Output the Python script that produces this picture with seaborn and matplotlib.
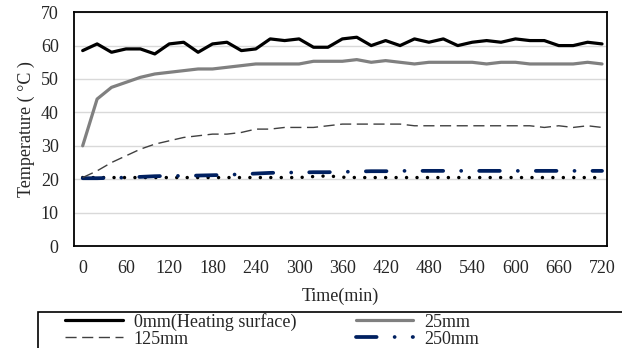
import numpy as np
import pandas as pd
import matplotlib
matplotlib.use("Agg")
import matplotlib.pyplot as plt
import seaborn as sns
from matplotlib.patches import Rectangle

# time axis (min), one reading every 20 minutes
time_min = list(range(0, 721, 20))

temp_0mm = [58.5, 60.5, 58, 59, 59, 57.5, 60.5, 61, 58, 60.5, 61, 58.5, 59,
            62, 61.5, 62, 59.5, 59.5, 62, 62.5, 60, 61.5, 60, 62, 61, 62, 60,
            61, 61.5, 61, 62, 61.5, 61.5, 60, 60, 61, 60.5]
temp_25mm = [30, 44, 47.5, 49, 50.5, 51.5, 52, 52.5, 53, 53, 53.5, 54, 54.5,
             54.5, 54.5, 54.5, 55.3, 55.3, 55.3, 55.8, 55, 55.5, 55, 54.5, 55,
             55, 55, 55, 54.5, 55, 55, 54.5, 54.5, 54.5, 54.5, 55, 54.5]
temp_125mm = [20.5, 22.5, 25, 27, 29, 30.5, 31.5, 32.5, 33, 33.5, 33.5, 34,
              35, 35, 35.5, 35.5, 35.5, 36, 36.5, 36.5, 36.5, 36.5, 36.5, 36,
              36, 36, 36, 36, 36, 36, 36, 36, 35.5, 36, 35.5, 36, 35.5]
temp_250mm = [20.3, 20.3, 20.4, 20.5, 20.7, 20.9, 21, 21, 21.1, 21.2, 21.3,
              21.5, 21.7, 21.9, 22, 22, 22.1, 22.1, 22.2, 22.3, 22.4, 22.4,
              22.5, 22.5, 22.5, 22.5, 22.5, 22.5, 22.5, 22.5, 22.5, 22.5,
              22.5, 22.5, 22.5, 22.5, 22.5]
temp_base = [20.5, 20.5, 20.5, 20.5, 20.5, 20.5, 20.5, 20.5, 20.5, 20.5, 20.5,
             20.5, 20.5, 20.5, 20.5, 20.5, 20.8, 21, 20.6, 20.5, 20.5, 20.5,
             20.5, 20.5, 20.5, 20.5, 20.5, 20.5, 20.5, 20.5, 20.5, 20.5, 20.5,
             20.5, 20.5, 20.5, 20.5]

x_ticks = list(range(0, 721, 60))
y_ticks = list(range(0, 71, 10))

sns.set_theme(style="white")
plt.rcParams["font.family"] = ["Liberation Serif", "DejaVu Serif"]
plt.rcParams["font.size"] = 13

fig = plt.figure(figsize=(6.22, 3.48), dpi=100)
ax = fig.add_axes([0.119, 0.293, 0.857, 0.672])

df = pd.DataFrame({
    "time": time_min,
    "0mm": temp_0mm,
    "25mm": temp_25mm,
    "125mm": temp_125mm,
    "250mm": temp_250mm,
    "base": temp_base,
})

ax.yaxis.grid(True, color="#d9d9d9", linewidth=1)
ax.set_axisbelow(True)

sns.lineplot(data=df, x="time", y="base", ax=ax, color="black",
             linewidth=2.5, linestyle=(0, (0.01, 3.0)),
             dash_capstyle="round", label="_nolegend_")
sns.lineplot(data=df, x="time", y="250mm", ax=ax, color="#002060",
             linewidth=2.7, linestyle=(0, (5.5, 4.8, 0.01, 4.8)),
             dash_capstyle="round", label="250mm")
sns.lineplot(data=df, x="time", y="125mm", ax=ax, color="#404040",
             linewidth=1.0, linestyle=(0, (8, 4)), label="125mm")
sns.lineplot(data=df, x="time", y="25mm", ax=ax, color="#808080",
             linewidth=2.3, label="25mm")
sns.lineplot(data=df, x="time", y="0mm", ax=ax, color="black",
             linewidth=2.3, label="0mm(Heating surface)")

ax.set_xlim(-12, 727)
ax.set_ylim(0, 70)
ax.set_xticks(x_ticks)
ax.set_yticks(y_ticks)
ax.tick_params(axis="both", length=0, labelsize=13, colors="#262626")
ax.tick_params(axis="x", pad=10)
ax.tick_params(axis="y", pad=11)
for s in ax.spines.values():
    s.set_visible(True)
    s.set_color("black")
    s.set_linewidth(1.3)

ax.set_xlabel("Time(min)", fontsize=13, labelpad=8)
ax.set_ylabel("Temperature ( °C )", fontsize=13, labelpad=4)

handles, labels = ax.get_legend_handles_labels()
order = [labels.index(n) for n in ["0mm(Heating surface)", "125mm", "25mm", "250mm"]]
ax.get_legend().remove()
fig.legend([handles[i] for i in order], [labels[i] for i in order],
           ncol=2, loc="upper left", bbox_to_anchor=(0.09, 0.127),
           frameon=False, fontsize=13, handlelength=3.2, handletextpad=0.6,
           columnspacing=3.3, labelspacing=0.0, borderpad=0)

# legend box runs off the bottom/right edge of the picture
fig.patches.append(Rectangle((38 / 622, -0.1), 0.95, 1 - 312 / 348 + 0.1,
                             transform=fig.transFigure, fill=False,
                             edgecolor="black", linewidth=1.2))

fig.savefig("out.png", dpi=100)
